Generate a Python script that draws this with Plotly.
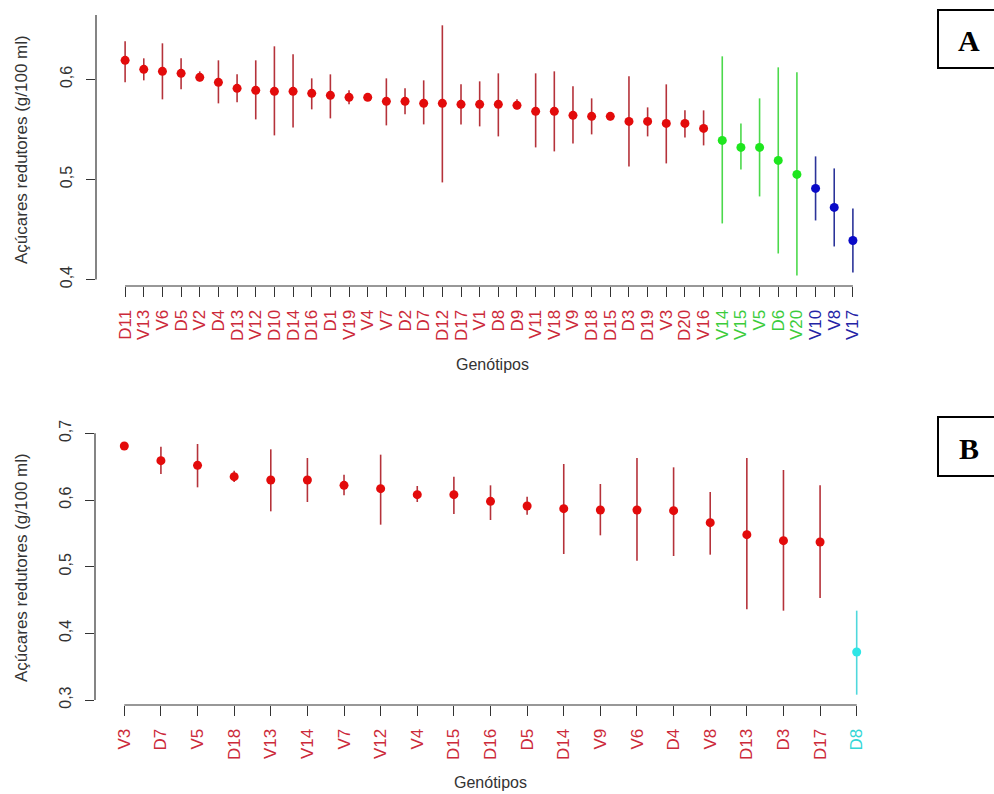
import plotly.graph_objects as go

# ---------------- data ----------------
genotypes_a = ["D11", "V13", "V6", "D5", "V2", "D4", "D13", "V12", "D10", "D14",
               "D16", "D1", "V19", "V4", "V7", "D2", "D7", "D12", "D17", "V1",
               "D8", "D9", "V11", "V18", "V9", "D18", "D15", "D3", "D19", "V3",
               "D20", "V16", "V14", "V15", "V5", "D6", "V20", "V10", "V8", "V17"]
mean_a = [0.619, 0.610, 0.608, 0.606, 0.602, 0.597, 0.591, 0.589, 0.588, 0.588,
          0.586, 0.584, 0.582, 0.582, 0.578, 0.578, 0.576, 0.576, 0.575, 0.575,
          0.575, 0.574, 0.568, 0.568, 0.564, 0.563, 0.563, 0.558, 0.558, 0.556,
          0.556, 0.551, 0.539, 0.532, 0.532, 0.519, 0.505, 0.491, 0.472, 0.439]
upper_a = [0.638, 0.621, 0.636, 0.621, 0.608, 0.619, 0.605, 0.619, 0.633, 0.625,
           0.601, 0.605, 0.589, 0.585, 0.601, 0.591, 0.599, 0.654, 0.595, 0.598,
           0.606, 0.580, 0.606, 0.608, 0.593, 0.581, 0.566, 0.603, 0.572, 0.595,
           0.569, 0.569, 0.623, 0.556, 0.581, 0.612, 0.607, 0.523, 0.511, 0.471]
lower_a = [0.597, 0.599, 0.580, 0.590, 0.598, 0.576, 0.577, 0.560, 0.544, 0.552,
           0.570, 0.561, 0.575, 0.579, 0.554, 0.565, 0.555, 0.497, 0.555, 0.553,
           0.543, 0.570, 0.532, 0.528, 0.536, 0.545, 0.559, 0.513, 0.543, 0.516,
           0.542, 0.534, 0.456, 0.510, 0.483, 0.426, 0.404, 0.459, 0.433, 0.407]
group_a = ["a"] * 32 + ["b"] * 5 + ["c"] * 3

genotypes_b = ["V3", "D7", "V5", "D18", "V13", "V14", "V7", "V12", "V4", "D15",
               "D16", "D5", "D14", "V9", "V6", "D4", "V8", "D13", "D3", "D17", "D8"]
mean_b = [0.681, 0.659, 0.652, 0.635, 0.630, 0.630, 0.622, 0.617, 0.608, 0.608,
          0.598, 0.591, 0.587, 0.585, 0.585, 0.584, 0.566, 0.548, 0.539, 0.537, 0.372]
upper_b = [0.682, 0.680, 0.684, 0.644, 0.676, 0.663, 0.638, 0.668, 0.621, 0.635,
           0.622, 0.605, 0.654, 0.624, 0.663, 0.649, 0.612, 0.663, 0.645, 0.622, 0.434]
lower_b = [0.680, 0.639, 0.619, 0.627, 0.583, 0.597, 0.607, 0.563, 0.597, 0.579,
           0.570, 0.578, 0.519, 0.547, 0.509, 0.516, 0.518, 0.436, 0.434, 0.453, 0.308]
group_b = ["a"] * 20 + ["d"]

yticks_a = [0.4, 0.5, 0.6]
yticks_b = [0.3, 0.4, 0.5, 0.6, 0.7]
ylabel = "Açúcares redutores (g/100 ml)"
xlabel = "Genótipos"

# ---------------- style ----------------
W, H = 994, 794
point_col = {"a": "#e30b0b", "b": "#1ee61e", "c": "#0a0ac8", "d": "#2ee6e6"}
bar_col = {"a": "#b5323a", "b": "#4cd94c", "c": "#2b3399", "d": "#4fd8dc"}
label_col = {"a": "#cc2a3a", "b": "#3ccc3c", "c": "#2424a6", "d": "#33d6d6"}
FONT = "Liberation Sans, Arial, sans-serif"
AXC = "#333333"


def px_x(p):
    return p / W


def px_y(p):
    return (H - p) / H


fig = go.Figure()


def add_panel(genos, means, ups, los, groups, xa, ya):
    for g in sorted(set(groups)):
        idx = [i for i, gg in enumerate(groups) if gg == g]
        fig.add_trace(go.Scatter(
            x=idx,
            y=[means[i] for i in idx],
            mode="markers",
            marker=dict(color=point_col[g], size=9, line=dict(width=0)),
            error_y=dict(type="data", symmetric=False,
                         array=[ups[i] - means[i] for i in idx],
                         arrayminus=[means[i] - los[i] for i in idx],
                         color=bar_col[g], thickness=1.6, width=0),
            xaxis=xa, yaxis=ya, showlegend=False, hoverinfo="skip"))


add_panel(genotypes_a, mean_a, upper_a, lower_a, group_a, "x", "y")
add_panel(genotypes_b, mean_b, upper_b, lower_b, group_b, "x2", "y2")

ticktext_a = [f"<span style='color:{label_col[g]}'>{t}</span>" for t, g in zip(genotypes_a, group_a)]
ticktext_b = [f"<span style='color:{label_col[g]}'>{t}</span>" for t, g in zip(genotypes_b, group_b)]

na, nb = len(genotypes_a), len(genotypes_b)
pad_a, pad_b = 0.04 * (na - 1), 0.04 * (nb - 1)

xcommon = dict(showgrid=False, zeroline=False, showline=False, ticks="outside",
               ticklen=10, tickwidth=1, tickcolor=AXC, tickangle=-90,
               tickfont=dict(family=FONT, size=17), ticklabelstandoff=6,
               fixedrange=True, automargin=False)
ycommon = dict(showgrid=False, zeroline=False, showline=False, ticks="outside",
               ticklen=9, tickwidth=1, tickcolor=AXC, tickangle=-90,
               tickfont=dict(family=FONT, size=16, color="#333333"),
               ticklabelstandoff=8, fixedrange=True, automargin=False)

fig.update_layout(
    template="none",
    width=W, height=H, autosize=False,
    margin=dict(l=0, r=0, t=0, b=0, pad=0),
    paper_bgcolor="white", plot_bgcolor="white",
    xaxis=dict(domain=[px_x(96), px_x(882)], range=[-pad_a, na - 1 + pad_a],
               tickmode="array", tickvals=list(range(na)), ticktext=ticktext_a,
               anchor="y", **xcommon),
    yaxis=dict(domain=[px_y(286), px_y(15)], range=[0.3935, 0.6643],
               tickmode="array", tickvals=yticks_a,
               ticktext=[f"{v:.1f}".replace(".", ",") for v in yticks_a],
               anchor="x", **ycommon),
    xaxis2=dict(domain=[px_x(95), px_x(886)], range=[-pad_b, nb - 1 + pad_b],
                tickmode="array", tickvals=list(range(nb)), ticktext=ticktext_b,
                anchor="y2", **xcommon),
    yaxis2=dict(domain=[px_y(705), px_y(433)], range=[0.2925, 0.7005],
                tickmode="array", tickvals=yticks_b,
                ticktext=[f"{v:.1f}".replace(".", ",") for v in yticks_b],
                anchor="x2", **ycommon),
)

# axis lines (R style: spanning ticks only / clipped to plot region)
shapes = [
    dict(type="line", xref="x", yref="y domain", x0=0, x1=na - 1, y0=0, y1=0,
         line=dict(color=AXC, width=1.2)),
    dict(type="line", xref="x domain", yref="y", x0=0, x1=0, y0=yticks_a[0], y1=0.6643,
         line=dict(color=AXC, width=1.2)),
    dict(type="line", xref="x2", yref="y2 domain", x0=0, x1=nb - 1, y0=0, y1=0,
         line=dict(color=AXC, width=1.2)),
    dict(type="line", xref="x2 domain", yref="y2", x0=0, x1=0, y0=yticks_b[0], y1=yticks_b[-1],
         line=dict(color=AXC, width=1.2)),
    dict(type="rect", xref="paper", yref="paper", x0=px_x(938), x1=px_x(1000),
         y0=px_y(68), y1=px_y(10), line=dict(color="black", width=2)),
    dict(type="rect", xref="paper", yref="paper", x0=px_x(938), x1=px_x(1000),
         y0=px_y(476), y1=px_y(417), line=dict(color="black", width=2)),
]
fig.update_layout(shapes=shapes)

ann_common = dict(xref="paper", yref="paper", showarrow=False,
                  xanchor="center", yanchor="middle")
ann = [
    dict(text="<b>A</b>", x=px_x(969), y=px_y(40),
         font=dict(family="Liberation Serif, Times New Roman, serif", size=30, color="black"), **ann_common),
    dict(text="<b>B</b>", x=px_x(969), y=px_y(448),
         font=dict(family="Liberation Serif, Times New Roman, serif", size=30, color="black"), **ann_common),
    dict(text=ylabel, x=px_x(21), y=px_y(150), textangle=-90,
         font=dict(family=FONT, size=17, color="#333333"), **ann_common),
    dict(text=ylabel, x=px_x(21), y=px_y(568), textangle=-90,
         font=dict(family=FONT, size=17, color="#333333"), **ann_common),
    dict(text=xlabel, x=px_x(492), y=px_y(365),
         font=dict(family=FONT, size=16, color="#333333"), **ann_common),
    dict(text=xlabel, x=px_x(490), y=px_y(782),
         font=dict(family=FONT, size=16, color="#333333"), **ann_common),
]
fig.update_layout(annotations=ann)

fig.write_html("out.html")
